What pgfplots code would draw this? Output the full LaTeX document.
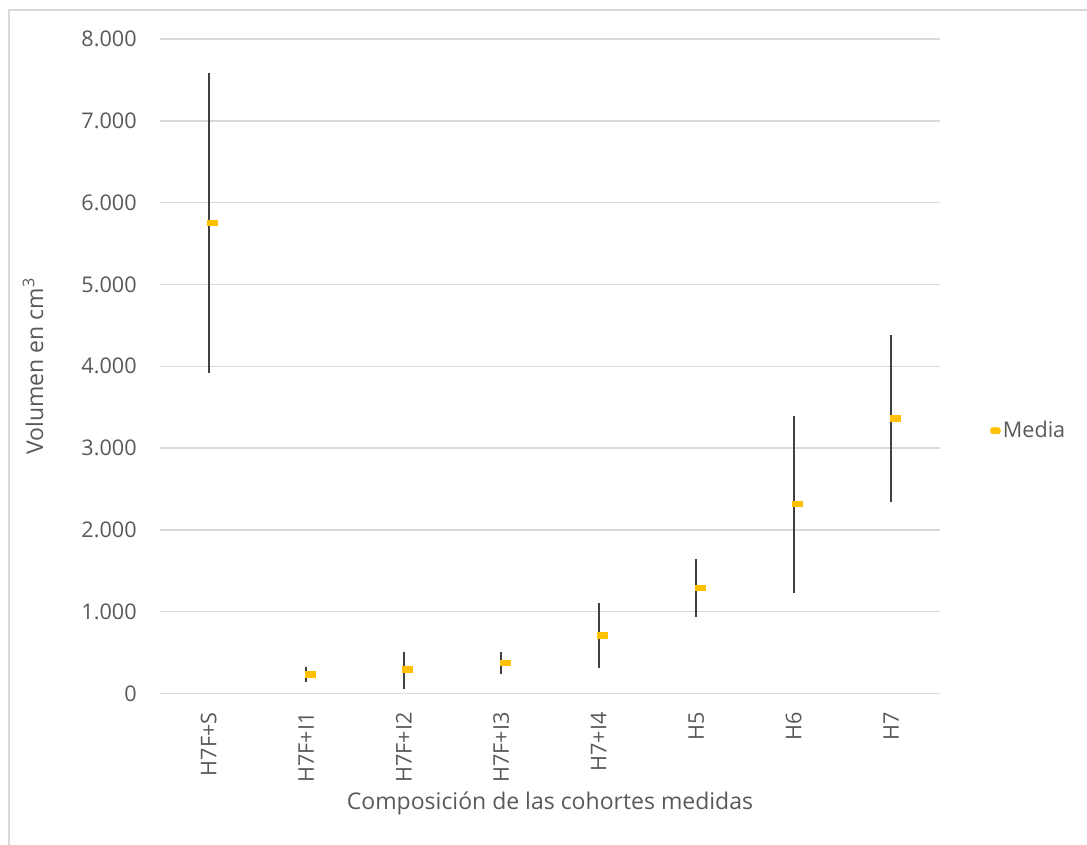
\documentclass[border=0pt]{standalone}
\usepackage{pgfplots}
\pgfplotsset{compat=1.18}
\usepackage{pgfplotstable}
\usepackage{fontspec}
\setmainfont{Open Sans}
\definecolor{txtgray}{HTML}{595959}
\definecolor{gridgray}{HTML}{D9D9D9}
\definecolor{linegray}{HTML}{404040}
\definecolor{myyellow}{HTML}{FFC000}
\pgfdeclareplotmark{meandash}{%
  \pgfsetcornersarced{\pgfpoint{0.8pt}{0.8pt}}%
  \pgfpathrectangle{\pgfpoint{-0.7pt}{-1.6pt}}{\pgfpoint{5.5pt}{3.2pt}}%
  \pgfusepathqfill}
\pgfplotstableread{
x min max mean
0 3915 7580 5750
1 137 320 230
2 51 504 291
3 235 504 373
4 315 1103 707
5 932 1645 1293
6 1225 3392 2313
7 2337 4383 3360
}\data
\begin{document}
\begin{tikzpicture}[font=\fontsize{10.8}{13}\selectfont, text=txtgray]
\useasboundingbox (0,0) rectangle (543.5pt,422.5pt);
\draw[gridgray, line width=0.7pt] (4.5pt,0) -- (4.5pt,417.5pt) -- (543.5pt,417.5pt);
\begin{axis}[
  at={(80pt,75.75pt)}, anchor=south west,
  scale only axis, width=390pt, height=327.25pt,
  xmin=-0.5, xmax=7.5, ymin=0, ymax=8000,
  xtick={0,...,7},
  xticklabels={H7F+S,H7F+I1,H7F+I2,H7F+I3,H7+I4,H5,H6,H7},
  ytick={0,1000,...,8000},
  scaled y ticks=false,
  /pgf/number format/.cd, 1000 sep={.}, assume math mode=true, /pgfplots/.cd,
  axis line style={draw=none},
  major tick length=0pt,
  ymajorgrids, grid style={gridgray, line width=0.7pt},
  xticklabel style={rotate=90, anchor=east, inner sep=0pt, text=txtgray},
  xticklabel shift=9.25pt,
  yticklabel style={anchor=east, inner sep=0pt, text=txtgray},
  yticklabel shift=11.5pt,
  legend style={at={(rel axis cs:1.064,0.4015)}, anchor=west, draw=none, fill=none,
    inner sep=0pt, nodes={inner sep=1.2pt, text=txtgray}},
  legend image code/.code={\fill[myyellow, rounded corners=0.8pt] (0pt,-1.5pt) rectangle (4.7pt,1.5pt);},
  clip=false,
]
\addplot[draw=none, mark=none, forget plot,
  error bars/.cd, y dir=both, y explicit, error mark=none,
  error bar style={line width=1pt, color=linegray}]
  table[x=x, y=mean, y error plus expr=\thisrow{max}-\thisrow{mean},
        y error minus expr=\thisrow{mean}-\thisrow{min}] {\data};
\addplot[only marks, mark=meandash, color=myyellow] table[x=x, y=mean] {\data};
\addlegendentry{Media}
\end{axis}
\node[rotate=90, font=\fontsize{11.5}{14}\selectfont] at (16.5pt,239.5pt) {Volumen en cm\textsuperscript{3}};
\node[font=\fontsize{11.5}{14}\selectfont] at (275pt,21pt) {Composición de las cohortes medidas};
\end{tikzpicture}
\end{document}
